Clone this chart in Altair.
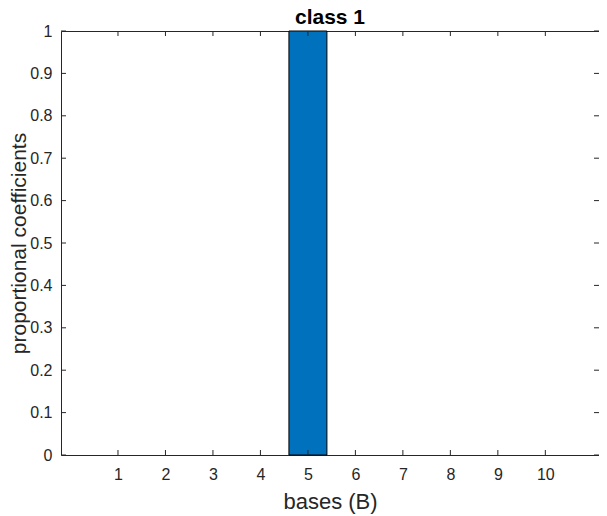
import altair as alt
import pandas as pd

bases = [1, 2, 3, 4, 5, 6, 7, 8, 9, 10]
coeffs = [0, 0, 0, 0, 1, 0, 0, 0, 0, 0]
x_ticks = [1, 2, 3, 4, 5, 6, 7, 8, 9, 10]
y_ticks = [0, 0.1, 0.2, 0.3, 0.4, 0.5, 0.6, 0.7, 0.8, 0.9, 1]

FONT = "Liberation Sans"
AX = "#262626"
W, H = 538, 424
TL = 5

bars_df = pd.DataFrame({"base": bases, "coef": coeffs})
xt_df = pd.DataFrame({"t": x_ticks})
yt_df = pd.DataFrame({"t": y_ticks})

xscale = alt.Scale(domain=[-0.2, 11.13], nice=False, zero=False)
yscale = alt.Scale(domain=[0, 1], nice=False)
xaxis = alt.Axis(values=x_ticks, ticks=False, domain=False, grid=False,
                 labelPadding=11, titlePadding=9, format="d", titleFontSize=22)
yaxis = alt.Axis(values=y_ticks, ticks=False, domain=False, grid=False,
                 labelPadding=9, titlePadding=0, format="~g", titleFontSize=21)
XT = "bases (B)"
YT = "proportional coefficients"

bars = alt.Chart(bars_df).transform_calculate(
    lo="datum.base - 0.4", hi="datum.base + 0.4"
).transform_filter("datum.coef > 0").mark_bar(
    color="#0072BD", stroke="black", strokeWidth=1
).encode(
    x=alt.X("lo:Q", scale=xscale, title=XT, axis=xaxis),
    x2="hi:Q",
    y=alt.Y("coef:Q", scale=yscale, title=YT, axis=yaxis),
    y2=alt.datum(0),
)

xb = alt.Chart(xt_df).mark_rule(color=AX, strokeWidth=1).encode(
    x=alt.X("t:Q", scale=xscale, title=XT, axis=xaxis), y=alt.value(H), y2=alt.value(H - TL))
xtp = alt.Chart(xt_df).mark_rule(color=AX, strokeWidth=1).encode(
    x=alt.X("t:Q", scale=xscale, title=XT, axis=xaxis), y=alt.value(0), y2=alt.value(TL))
yl = alt.Chart(yt_df).mark_rule(color=AX, strokeWidth=1).encode(
    y=alt.Y("t:Q", scale=yscale, title=YT, axis=yaxis), x=alt.value(0), x2=alt.value(TL))
yr = alt.Chart(yt_df).mark_rule(color=AX, strokeWidth=1).encode(
    y=alt.Y("t:Q", scale=yscale, title=YT, axis=yaxis), x=alt.value(W), x2=alt.value(W - TL))

chart = alt.layer(bars, xb, xtp, yl, yr).properties(
    width=W, height=H,
    background="white",
    title=alt.TitleParams("class 1", fontSize=21, fontWeight="bold", font=FONT,
                          color="black", anchor="middle", offset=-5),
    autosize=alt.AutoSizeParams(type="none"),
    padding={"left": 53, "top": 23, "right": 0, "bottom": 60},
).configure_view(stroke=AX, strokeWidth=1).configure_axis(
    labelFont=FONT, labelFontSize=16, labelColor=AX,
    titleFont=FONT, titleColor=AX, titleFontWeight="normal",
)

chart.save("out.html", embed_options={"renderer": "svg", "actions": False})
